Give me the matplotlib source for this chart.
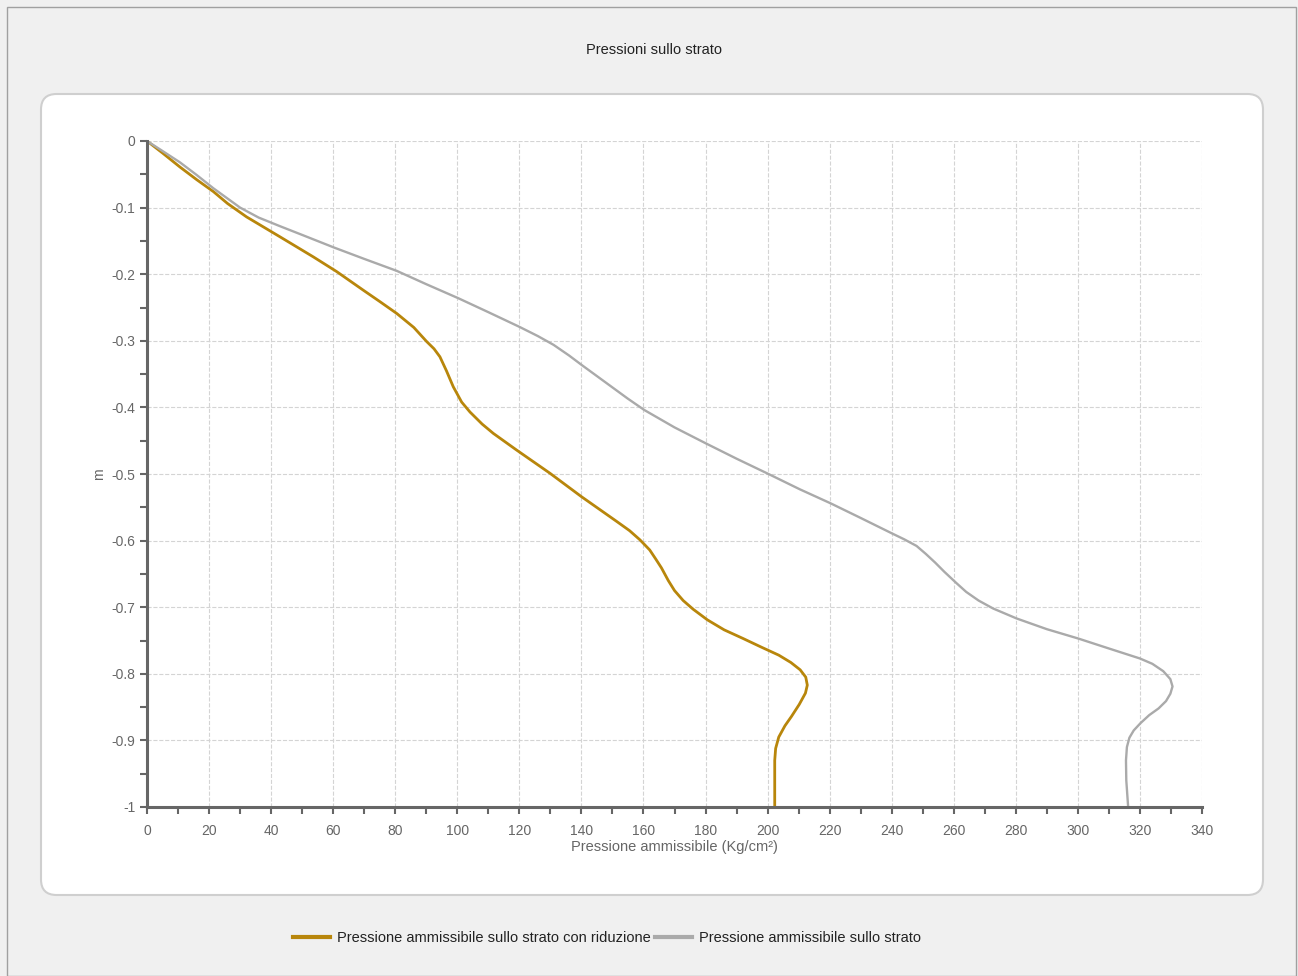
import matplotlib
matplotlib.use("Agg")
import matplotlib.pyplot as plt
from matplotlib.patches import FancyBboxPatch, Rectangle
from matplotlib.ticker import MultipleLocator, FixedLocator

plt.rcParams['font.family'] = ['Liberation Sans', 'DejaVu Sans']

# dati
press_rid = [0, 5, 10.6, 16, 21.4, 26, 32.1, 42.9, 53.6, 61.1, 69.7, 75, 80.5, 86,
             90.1, 92.5, 94.4, 96.5, 98.7, 101.4, 104.1, 108, 111.6, 119.1, 129.9,
             140, 151.3, 155.5, 158.9, 162, 164, 165.8, 168, 170, 172.8, 176, 180.6,
             186, 192.1, 198, 203.6, 207.5, 210.5, 212.3, 212.8, 212.2, 210.2, 207.7,
             205.6, 203.6, 202.6, 202.3, 202.3]
prof_rid = [0, -0.018, -0.039, -0.058, -0.076, -0.094, -0.114, -0.144, -0.174, -0.196,
            -0.224, -0.241, -0.259, -0.28, -0.301, -0.312, -0.324, -0.345, -0.369,
            -0.392, -0.407, -0.425, -0.439, -0.464, -0.499, -0.534, -0.571, -0.585,
            -0.599, -0.614, -0.628, -0.641, -0.66, -0.675, -0.69, -0.703, -0.719,
            -0.734, -0.747, -0.76, -0.772, -0.783, -0.794, -0.805, -0.817, -0.829,
            -0.846, -0.864, -0.878, -0.895, -0.912, -0.93, -1.0]

press = [0, 5, 10.6, 16, 21.4, 30, 36, 42.9, 50, 60.3, 70, 80.5, 90, 100.3, 110, 120,
         126, 131, 136, 140, 145, 150, 155, 160.3, 170, 180.1, 190, 200.3, 210.4,
         220.3, 230, 240, 244, 248, 251, 254, 257, 260.9, 264, 268, 272.7, 280.3, 290,
         300.1, 310, 316, 320, 324, 327.5, 329.8, 330.5, 329.8, 328.4, 326, 323,
         320.2, 318, 316.6, 315.8, 315.5, 315.6, 316.2]
prof = [0, -0.015, -0.032, -0.051, -0.071, -0.1, -0.115, -0.128, -0.141, -0.16, -0.177,
        -0.195, -0.215, -0.236, -0.257, -0.279, -0.293, -0.306, -0.322, -0.336, -0.353,
        -0.37, -0.387, -0.404, -0.43, -0.454, -0.477, -0.5, -0.523, -0.544, -0.566,
        -0.589, -0.598, -0.608, -0.62, -0.633, -0.647, -0.664, -0.677, -0.69, -0.702,
        -0.717, -0.733, -0.747, -0.762, -0.771, -0.777, -0.785, -0.796, -0.808,
        -0.819, -0.83, -0.841, -0.852, -0.862, -0.874, -0.885, -0.896, -0.91, -0.93,
        -0.96, -1.0]

x_ticks = list(range(0, 341, 20))
y_ticks = [0, -0.1, -0.2, -0.3, -0.4, -0.5, -0.6, -0.7, -0.8, -0.9, -1]
y_labels = ['0', '-0.1', '-0.2', '-0.3', '-0.4', '-0.5', '-0.6', '-0.7', '-0.8', '-0.9', '-1']

W, H = 1298, 976
fig = plt.figure(figsize=(W / 100, H / 100), dpi=100)
fig.patch.set_facecolor('#f0f0f0')

# cornice esterna e pannello bianco arrotondato (dietro agli assi)
fig.patches.append(Rectangle((7 / W, 0), 1289 / W, 1 - 7 / H, transform=fig.transFigure,
                             fill=False, edgecolor='#a0a0a0', lw=1.0, zorder=-2))
fig.patches.append(FancyBboxPatch((41 / W, 1 - 895 / H), 1222 / W, 801 / H,
                                  boxstyle="round,pad=0,rounding_size=0.012",
                                  transform=fig.transFigure, facecolor='white',
                                  edgecolor='#cfcfcf', lw=1.5, mutation_aspect=W / H,
                                  zorder=-1))

fig.text(654 / W, 1 - 50 / H, 'Pressioni sullo strato', ha='center', va='center',
         fontsize=10.5, color='#222222')

ax = fig.add_axes([147 / W, 1 - 807 / H, 1055 / W, 666 / H])
ax.set_facecolor('white')
ax.plot(press_rid, prof_rid, color='#b8860b', lw=2.0,
        label='Pressione ammissibile sullo strato con riduzione')
ax.plot(press, prof, color='#aaaaaa', lw=1.7, label='Pressione ammissibile sullo strato')

ax.set_xlim(0, 340)
ax.set_ylim(-1, 0)
ax.xaxis.set_major_locator(FixedLocator(x_ticks))
ax.xaxis.set_minor_locator(MultipleLocator(10))
ax.yaxis.set_major_locator(FixedLocator(y_ticks))
ax.set_yticklabels(y_labels)
ax.yaxis.set_minor_locator(MultipleLocator(0.05))
ax.tick_params(which='both', direction='out', length=5, width=1.5, color='#666666',
               labelcolor='#666666', labelsize=10)
ax.tick_params(axis='x', pad=7)
ax.grid(True, which='major', linestyle='--', color='#d4d4d4', lw=0.8)
ax.set_axisbelow(True)
for s in ['top', 'right']:
    ax.spines[s].set_visible(False)
for s in ['left', 'bottom']:
    ax.spines[s].set_color('#666666')
    ax.spines[s].set_linewidth(2.2)

ax.set_xlabel('Pressione ammissibile (Kg/cm²)', fontsize=10.5, color='#666666', labelpad=2)
ax.set_ylabel('m', fontsize=10, color='#666666', labelpad=4)

fig.legend(loc='center', bbox_to_anchor=(607 / W, 1 - 938 / H), ncol=2, frameon=False,
           fontsize=10.5, handlelength=2.5, columnspacing=0.3, handletextpad=0.5,
           labelcolor='#222222')
for line in fig.legends[0].get_lines():
    line.set_linewidth(3)

fig.savefig('out.png', dpi=100, facecolor=fig.get_facecolor())
